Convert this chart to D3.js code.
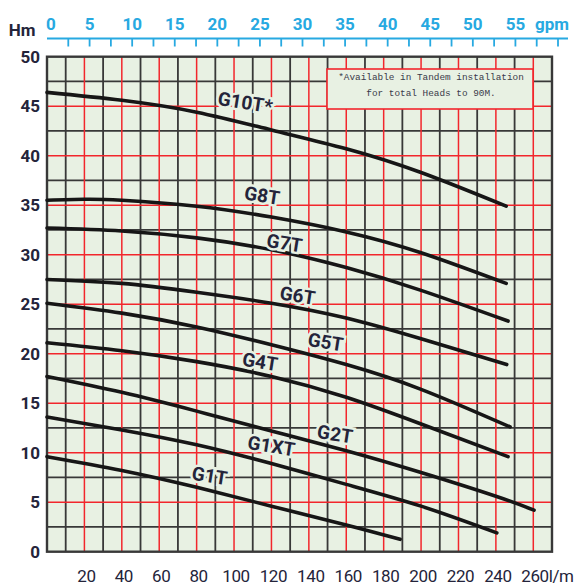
<!DOCTYPE html>
<html>
<head>
<meta charset="utf-8">
<script src="https://cdn.jsdelivr.net/npm/d3@7"></script>
<style>
  body { margin: 0; background: #fff; }
  svg { display: block; }
</style>
</head>
<body>
<svg id="chart" width="575" height="586"></svg>
<script>

// pump curves, flow in l/min, head in m
var g10t_q = [0, 40, 80, 120, 160, 200, 245.5];
var g10t_h = [46.4, 45.6, 44.4, 42.6, 40.7, 38.3, 34.9];
var g8t_q = [0, 20, 40, 80, 120, 160, 200, 245.5];
var g8t_h = [35.5, 35.6, 35.5, 34.9, 33.8, 32.3, 30.2, 27.1];
var g7t_q = [0, 40, 80, 120, 160, 200, 246.5];
var g7t_h = [32.7, 32.4, 31.7, 30.5, 28.7, 26.4, 23.3];
var g6t_q = [0, 40, 80, 120, 160, 200, 245.8];
var g6t_h = [27.5, 27.1, 26.2, 25.1, 23.6, 21.5, 18.9];
var g5t_q = [0, 40, 80, 120, 160, 200, 247.6];
var g5t_h = [25.1, 24.1, 22.7, 20.9, 18.9, 16.4, 12.6];
var g4t_q = [0, 40, 80, 120, 160, 200, 246.5];
var g4t_h = [21.1, 20.3, 19.2, 17.7, 15.6, 12.9, 9.6];
var g2t_q = [0, 40, 80, 120, 160, 200, 240, 260.4];
var g2t_h = [17.7, 16.1, 14.2, 12.2, 10.2, 8.0, 5.6, 4.2];
var g1xt_q = [0, 40, 80, 120, 160, 200, 240.5];
var g1xt_h = [13.6, 12.3, 10.8, 8.9, 6.8, 4.6, 1.9];
var g1t_q = [0, 40, 80, 120, 160, 188.8];
var g1t_h = [9.6, 8.2, 6.5, 4.6, 2.7, 1.25];

var curve_names = ["G10T*", "G8T", "G7T", "G6T", "G5T", "G4T", "G2T", "G1XT", "G1T"];
// where each name sits (l/min, m)
var label_q = [106, 115, 127, 134, 149, 114, 154, 120, 87];
var label_h = [45.4, 36.0, 31.2, 25.9, 21.2, 19.2, 11.9, 10.7, 7.7];

var lpm_ticks = [20, 40, 60, 80, 100, 120, 140, 160, 180, 200, 220, 240, 260];
var head_ticks = [0, 5, 10, 15, 20, 25, 30, 35, 40, 45, 50];
var gpm_ticks = [0, 5, 10, 15, 20, 25, 30, 35, 40, 45, 50, 55];

var note_lines = ["*Available in Tandem installation", "for total Heads to 90M."];

var curves = [
  {q: g10t_q, h: g10t_h}, {q: g8t_q, h: g8t_h}, {q: g7t_q, h: g7t_h},
  {q: g6t_q, h: g6t_h}, {q: g5t_q, h: g5t_h}, {q: g4t_q, h: g4t_h},
  {q: g2t_q, h: g2t_h}, {q: g1xt_q, h: g1xt_h}, {q: g1t_q, h: g1t_h}
];

var bg = "#e8f1e3",
    grid_black = "#383838",
    grid_red = "#f2262c",
    blue = "#27a9e1",
    ink = "#24243a",
    font = "Roboto, sans-serif";

var svg = d3.select("#chart");

var x = d3.scaleLinear().domain([0, 270]).range([47, 552]);
var y = d3.scaleLinear().domain([0, 50]).range([551.7, 56.7]);
var x_gpm = d3.scaleLinear().domain([0, 60]).range([47, 558]);

// plot background
svg.append("rect")
  .attr("x", x(0)).attr("y", y(50))
  .attr("width", x(270) - x(0)).attr("height", y(0) - y(50))
  .attr("fill", bg);

var grid = svg.append("g");

// black lines at the odd tens and half steps of head
grid.selectAll(".vb")
  .data(d3.range(10, 260, 20))
  .enter().append("line")
    .attr("x1", function(d) { return x(d); }).attr("x2", function(d) { return x(d); })
    .attr("y1", y(50)).attr("y2", y(0))
    .attr("stroke", grid_black).attr("stroke-width", 1.8);

grid.selectAll(".hb")
  .data(d3.range(2.5, 50, 5))
  .enter().append("line")
    .attr("x1", x(0)).attr("x2", x(270))
    .attr("y1", function(d) { return y(d); }).attr("y2", function(d) { return y(d); })
    .attr("stroke", grid_black).attr("stroke-width", 1.8);

grid.selectAll(".vr")
  .data(lpm_ticks)
  .enter().append("line")
    .attr("x1", function(d) { return x(d); }).attr("x2", function(d) { return x(d); })
    .attr("y1", y(50)).attr("y2", y(0))
    .attr("stroke", grid_red).attr("stroke-width", 1.5);

grid.selectAll(".hr")
  .data(head_ticks.slice(1, -1))
  .enter().append("line")
    .attr("x1", x(0)).attr("x2", x(270))
    .attr("y1", function(d) { return y(d); }).attr("y2", function(d) { return y(d); })
    .attr("stroke", grid_red).attr("stroke-width", 1.5);

// frame
svg.append("rect")
  .attr("x", x(0)).attr("y", y(50))
  .attr("width", x(270) - x(0)).attr("height", y(0) - y(50))
  .attr("fill", "none").attr("stroke", grid_black).attr("stroke-width", 2.4);

// note box
var note = svg.append("g");
note.append("rect")
  .attr("x", 327).attr("y", 69).attr("width", 206).attr("height", 40)
  .attr("fill", bg).attr("stroke", grid_red).attr("stroke-width", 1.6);
note.selectAll("text")
  .data(note_lines)
  .enter().append("text")
    .attr("x", 431)
    .attr("y", function(d, i) { return 80 + i * 16; })
    .attr("text-anchor", "middle")
    .attr("font-family", "Liberation Mono, DejaVu Sans Mono, monospace")
    .attr("font-size", 9.4)
    .attr("fill", "#3a3a4a")
    .text(function(d) { return d; });

// curves
var line = d3.line()
  .x(function(d) { return x(d[0]); })
  .y(function(d) { return y(d[1]); })
  .curve(d3.curveNatural);

svg.append("g").selectAll("path")
  .data(curves)
  .enter().append("path")
    .attr("d", function(c) { return line(d3.zip(c.q, c.h)); })
    .attr("fill", "none")
    .attr("stroke", "#161616")
    .attr("stroke-width", 3.6)
    .attr("stroke-linecap", "round");

// curve names, knocked out of the grid
svg.append("g").selectAll("text")
  .data(curve_names)
  .enter().append("text")
    .attr("transform", function(d, i) {
      return "translate(" + x(label_q[i]) + "," + y(label_h[i]) + ") rotate(9)";
    })
    .attr("text-anchor", "middle")
    .attr("dy", "0.36em")
    .attr("font-family", font)
    .attr("font-weight", "bold")
    .attr("font-size", 19)
    .attr("fill", ink)
    .attr("stroke", bg)
    .attr("stroke-width", 5)
    .attr("paint-order", "stroke")
    .text(function(d) { return d; });

// top gpm axis
var top_axis = svg.append("g");
top_axis.append("line")
  .attr("x1", x_gpm(0)).attr("x2", 568)
  .attr("y1", 38.5).attr("y2", 38.5)
  .attr("stroke", blue).attr("stroke-width", 2.2);
top_axis.selectAll(".tk")
  .data(d3.range(2.5, 62.5, 2.5))
  .enter().append("line")
    .attr("x1", function(d) { return x_gpm(d); }).attr("x2", function(d) { return x_gpm(d); })
    .attr("y1", 38.5).attr("y2", 46.5)
    .attr("stroke", blue).attr("stroke-width", 1.8);
top_axis.selectAll("text")
  .data(gpm_ticks)
  .enter().append("text")
    .attr("x", function(d) { return x_gpm(d) + (d === 0 ? 4 : 0); })
    .attr("y", 30)
    .attr("text-anchor", "middle")
    .attr("font-family", font)
    .attr("font-weight", "bold")
    .attr("font-size", 17)
    .attr("fill", blue)
    .text(function(d) { return d; });
top_axis.append("text")
  .attr("x", 552).attr("y", 30)
  .attr("text-anchor", "middle")
  .attr("font-family", font)
  .attr("font-weight", "bold")
  .attr("font-size", 17)
  .attr("fill", blue)
  .text("gpm");

// left head axis
svg.append("g").selectAll("text")
  .data(head_ticks)
  .enter().append("text")
    .attr("x", 40)
    .attr("y", function(d) { return y(d); })
    .attr("dy", "0.36em")
    .attr("text-anchor", "end")
    .attr("font-family", font)
    .attr("font-weight", "bold")
    .attr("font-size", 17)
    .attr("fill", ink)
    .text(function(d) { return d; });

svg.append("text")
  .attr("x", 22).attr("y", 36)
  .attr("text-anchor", "middle")
  .attr("font-family", font)
  .attr("font-weight", "bold")
  .attr("font-size", 17)
  .attr("fill", ink)
  .text("Hm");

// bottom l/min axis, the last label carries the unit
svg.append("g").selectAll("text")
  .data(lpm_ticks)
  .enter().append("text")
    .attr("x", function(d, i) { return i === lpm_ticks.length - 1 ? x(d) - 12 : x(d) + 2; })
    .attr("y", 582)
    .attr("text-anchor", function(d, i) { return i === lpm_ticks.length - 1 ? "start" : "middle"; })
    .attr("font-family", font)
    .attr("font-size", 17)
    .attr("letter-spacing", -0.4)
    .attr("fill", ink)
    .text(function(d, i) { return i === lpm_ticks.length - 1 ? d + "l/m" : d; });

</script>
</body>
</html>
